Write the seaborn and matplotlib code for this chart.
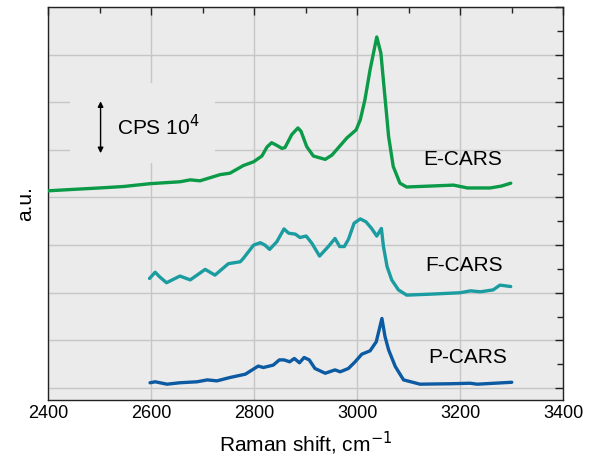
import numpy as np
import pandas as pd
import matplotlib
matplotlib.use("Agg")
import matplotlib.pyplot as plt
from matplotlib.ticker import MultipleLocator, NullFormatter
from matplotlib.patches import Rectangle
import seaborn as sns

# ---- data ----
e_x = [2400, 2449, 2500, 2546, 2598, 2656, 2676, 2695, 2734, 2753, 2779, 2799, 2815,
       2825, 2834, 2843, 2854, 2860, 2873, 2885, 2891, 2902, 2915, 2938, 2951, 2980,
       2998, 3006, 3015, 3025, 3038, 3046, 3052, 3061, 3070, 3083, 3096, 3142, 3187,
       3214, 3258, 3280, 3298]
e_y = [4.14, 4.17, 4.20, 4.23, 4.29, 4.33, 4.37, 4.35, 4.48, 4.51, 4.67, 4.75, 4.87,
       5.06, 5.15, 5.10, 5.03, 5.05, 5.32, 5.46, 5.39, 5.07, 4.87, 4.80, 4.89, 5.25,
       5.42, 5.63, 6.05, 6.68, 7.37, 7.03, 6.33, 5.28, 4.65, 4.30, 4.22, 4.24, 4.26,
       4.20, 4.20, 4.24, 4.30]

f_x = [2597, 2608, 2617, 2630, 2656, 2676, 2705, 2724, 2750, 2773, 2779, 2799, 2812,
       2821, 2830, 2844, 2858, 2867, 2880, 2889, 2901, 2912, 2927, 2944, 2957, 2966,
       2975, 2983, 2994, 3006, 3017, 3028, 3038, 3047, 3051, 3058, 3067, 3080, 3096,
       3142, 3200, 3220, 3239, 3264, 3277, 3298]
f_y = [2.30, 2.43, 2.33, 2.21, 2.35, 2.27, 2.49, 2.37, 2.61, 2.65, 2.72, 3.00, 3.05,
       3.00, 2.91, 3.07, 3.34, 3.25, 3.23, 3.16, 3.19, 3.04, 2.77, 2.97, 3.14, 2.97,
       2.97, 3.12, 3.46, 3.55, 3.49, 3.35, 3.19, 3.35, 2.97, 2.55, 2.27, 2.06, 1.95,
       1.97, 2.00, 2.04, 2.02, 2.06, 2.16, 2.13]

p_x = [2598, 2608, 2631, 2656, 2689, 2709, 2728, 2753, 2783, 2808, 2818, 2837, 2849,
       2858, 2869, 2878, 2888, 2897, 2907, 2918, 2938, 2957, 2967, 2983, 2996, 3009,
       3025, 3037, 3048, 3054, 3061, 3074, 3090, 3122, 3186, 3219, 3233, 3300]
p_y = [0.11, 0.13, 0.08, 0.11, 0.13, 0.17, 0.15, 0.22, 0.29, 0.46, 0.43, 0.48, 0.59,
       0.59, 0.55, 0.62, 0.53, 0.64, 0.59, 0.41, 0.31, 0.38, 0.34, 0.41, 0.55, 0.71,
       0.78, 0.97, 1.46, 1.08, 0.80, 0.45, 0.17, 0.08, 0.09, 0.10, 0.08, 0.12]

series_names = ["E-CARS", "F-CARS", "P-CARS"]
series_colors = ["#0a9a48", "#1a9ca0", "#0b5aa2"]
label_pos = [(3204, 4.79), (3208, 2.58), (3215, 0.65)]

x_ticks = [2400, 2600, 2800, 3000, 3200, 3400]

df = pd.concat([
    pd.DataFrame({"x": e_x, "y": e_y, "s": "E-CARS"}),
    pd.DataFrame({"x": f_x, "y": f_y, "s": "F-CARS"}),
    pd.DataFrame({"x": p_x, "y": p_y, "s": "P-CARS"}),
])

sns.set_style("white")
plt.rcParams["font.family"] = ["Liberation Sans", "DejaVu Sans"]
plt.rcParams["text.color"] = "black"
plt.rcParams["axes.labelcolor"] = "black"
plt.rcParams["xtick.color"] = "black"
plt.rcParams["ytick.color"] = "black"

fig = plt.figure(figsize=(5.95, 4.65), dpi=100)
ax = fig.add_axes([0.0807, 0.140, 0.866, 0.845])
ax.set_facecolor("#ebebeb")

for name, col in zip(series_names, series_colors):
    sub = df[df["s"] == name]
    sns.lineplot(data=sub, x="x", y="y", color=col, linewidth=2.4, ax=ax,
                 sort=False, estimator=None, zorder=3,
                 solid_joinstyle="round", solid_capstyle="round")

ax.set_xlim(2400, 3400)
ax.set_ylim(-0.25, 8.0)
ax.set_xticks(x_ticks)
ax.set_xticklabels([str(t) for t in x_ticks], fontsize=13)
ax.xaxis.set_minor_locator(MultipleLocator(100))
ax.yaxis.set_major_locator(MultipleLocator(1))
ax.yaxis.set_minor_locator(MultipleLocator(0.5))
ax.yaxis.set_major_formatter(NullFormatter())
ax.grid(True, which="major", color="#c6c6c6", linewidth=1.0, zorder=0)
ax.set_axisbelow(True)
ax.tick_params(which="both", direction="in", top=True, right=True, color="#222222")
ax.tick_params(which="major", length=6, width=1)
ax.tick_params(which="minor", length=4, width=1)
for sp in ax.spines.values():
    sp.set_color("#222222")
    sp.set_linewidth(1.0)

ax.set_xlabel("Raman shift, cm$^{-1}$", fontsize=15, labelpad=6)
ax.set_ylabel("a.u.", fontsize=15, labelpad=6)

# label box covering grid
ax.add_patch(Rectangle((2443, 4.73), 281, 1.68, facecolor="#ebebeb",
                       edgecolor="none", zorder=1))
ax.annotate("", xy=(2502, 6.02), xytext=(2502, 4.93),
            arrowprops=dict(arrowstyle="<|-|>", color="black", lw=1.0,
                            mutation_scale=8, shrinkA=0, shrinkB=0), zorder=4)
ax.text(2534, 5.48, "CPS 10$^4$", fontsize=15, va="center", ha="left", zorder=4)

for name, (lx, ly) in zip(series_names, label_pos):
    ax.text(lx, ly, name, fontsize=15, ha="center", va="center", zorder=4)

fig.savefig("out.png", dpi=100)
